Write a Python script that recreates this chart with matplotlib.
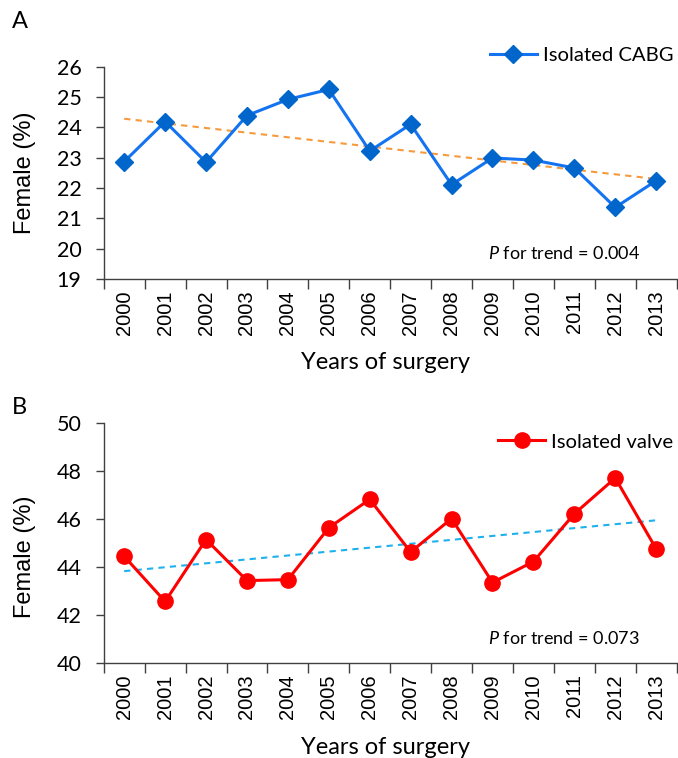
import numpy as np
import matplotlib
matplotlib.use("Agg")
import matplotlib.pyplot as plt
from matplotlib.ticker import FixedLocator

plt.rcParams['font.family'] = ['Lato', 'DejaVu Sans']
plt.rcParams['mathtext.fontset'] = 'custom'
plt.rcParams['mathtext.it'] = 'Lato:italic'
plt.rcParams['mathtext.rm'] = 'Lato'

years = ['2000', '2001', '2002', '2003', '2004', '2005', '2006',
         '2007', '2008', '2009', '2010', '2011', '2012', '2013']
cabg = [22.87, 24.19, 22.85, 24.39, 24.92, 25.25, 23.22,
        24.10, 22.11, 22.99, 22.92, 22.66, 21.36, 22.24]
valve = [44.45, 42.57, 45.15, 43.44, 43.48, 45.64, 46.82,
         44.63, 46.02, 43.36, 44.23, 46.22, 47.71, 44.76]
p_cabg = '0.004'
p_valve = '0.073'

fig = plt.figure(figsize=(6.78, 7.58), dpi=100)
axA = fig.add_axes([0.153, 0.632, 0.845, 0.280])
axB = fig.add_axes([0.153, 0.125, 0.845, 0.317])

x = np.arange(len(years))
axis_col = '#404040'


def style(ax, ylo, yhi, step):
    ax.set_xlim(-0.5, len(years) - 0.5)
    ax.set_ylim(ylo, yhi)
    ax.set_yticks(np.arange(ylo, yhi + step / 2, step))
    ax.tick_params(axis='y', labelsize=15.5, length=6, width=1, color=axis_col, pad=10)
    ax.set_xticks(x)
    ax.set_xticklabels(years, rotation=90, fontsize=14.5, family='Liberation Sans')
    ax.tick_params(axis='x', which='major', length=0, pad=8)
    ax.xaxis.set_minor_locator(FixedLocator(np.arange(-0.5, len(years), 1.0)))
    ax.tick_params(axis='x', which='minor', length=7, width=1, color=axis_col)
    for s in ['top', 'right']:
        ax.spines[s].set_visible(False)
    for s in ['left', 'bottom']:
        ax.spines[s].set_color(axis_col)
        ax.spines[s].set_linewidth(1)


# Panel A - isolated CABG
style(axA, 19, 26, 1)
fitA = np.polyfit(x, cabg, 1)
axA.plot(x, np.polyval(fitA, x), ls=(0, (3, 2.5)), color='#F79A3E', lw=1.5, zorder=2)
axA.plot(x, cabg, color='#1473F0', lw=2.2, marker='D', ms=9,
         mfc='#0066CC', mec='#0066CC', label='Isolated CABG', zorder=3)
axA.legend(loc='center right', bbox_to_anchor=(1.008, 0.927), bbox_transform=fig.transFigure,
           frameon=False, fontsize=14.6, handlelength=2.3, handletextpad=0.3, borderpad=0)
fig.text(0.944, 0.666, r'$\it{P}$ for trend = ' + p_cabg, ha='right', va='center', fontsize=13)

# Panel B - isolated valve
style(axB, 40, 50, 2)
fitB = np.polyfit(x, valve, 1)
axB.plot(x, np.polyval(fitB, x), ls=(0, (3, 2.5)), color='#1FB0EE', lw=1.5, zorder=2)
axB.plot(x, valve, color='#FF0000', lw=2.2, marker='o', ms=11,
         mfc='#FF0000', mec='#FF0000', label='Isolated valve', zorder=3)
axB.legend(loc='center right', bbox_to_anchor=(1.008, 0.417), bbox_transform=fig.transFigure,
           frameon=False, fontsize=14.6, handlelength=2.3, handletextpad=0.3, borderpad=0)
fig.text(0.944, 0.158, r'$\it{P}$ for trend = ' + p_valve, ha='right', va='center', fontsize=13)

# labels
fig.text(0.037, 0.772, 'Female (%)', rotation=90, ha='center', va='center',
         fontsize=17, family='Liberation Sans')
fig.text(0.037, 0.265, 'Female (%)', rotation=90, ha='center', va='center',
         fontsize=17, family='Liberation Sans')
fig.text(0.568, 0.522, 'Years of surgery', ha='center', va='center', fontsize=17)
fig.text(0.568, 0.0145, 'Years of surgery', ha='center', va='center', fontsize=17)
fig.text(0.029, 0.971, 'A', ha='center', va='center', fontsize=17)
fig.text(0.029, 0.462, 'B', ha='center', va='center', fontsize=17)

fig.savefig('out.png', dpi=100)
